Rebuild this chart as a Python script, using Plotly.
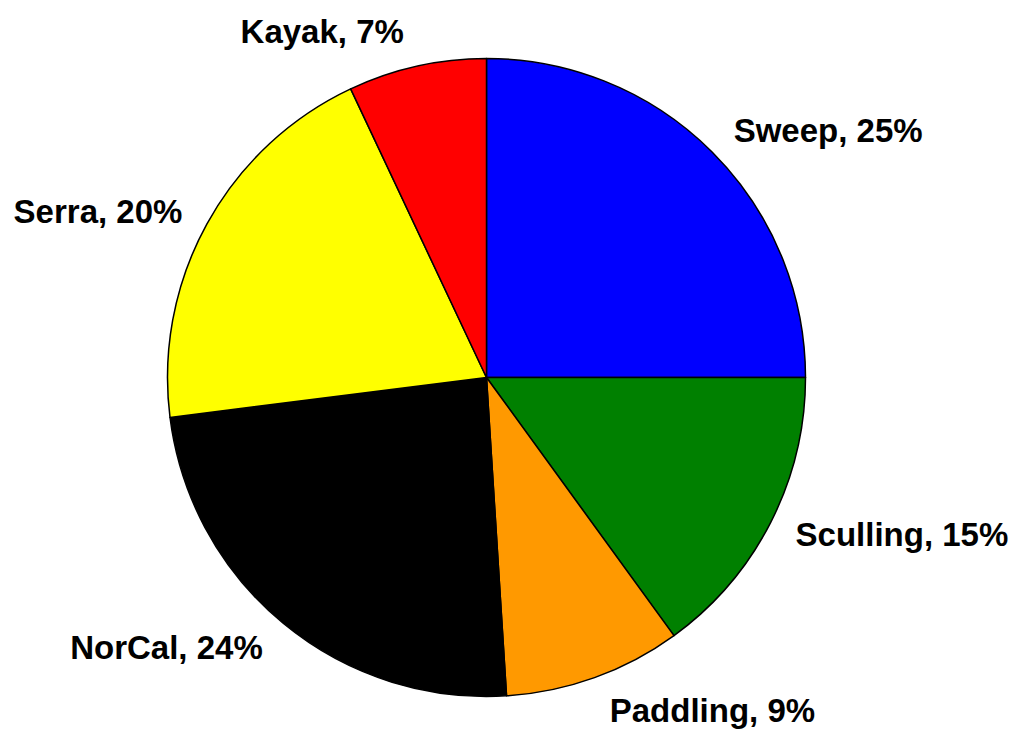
import plotly.graph_objects as go

labels = ["Sweep", "Sculling", "Paddling", "NorCal", "Serra", "Kayak"]
values = [25, 15, 9, 24, 20, 7]
colors = ["#0000FF", "#008000", "#FF9900", "#000000", "#FFFF00", "#FF0000"]

font = dict(family="Liberation Sans, Arial, sans-serif", size=33, color="black", weight="bold")

# Invisible, slightly larger pie carrying the outside labels (pushes them further out)
label_pie = go.Pie(
    labels=labels,
    values=values,
    sort=False,
    direction="clockwise",
    rotation=0,
    marker=dict(colors=["rgba(0,0,0,0)"] * len(values), line=dict(width=0)),
    textposition="outside",
    texttemplate="%{label}, %{percent:.0%}",
    textfont=font,
    showlegend=False,
    hoverinfo="skip",
    domain=dict(x=[0, 1], y=[0, 1]),
)

pie = go.Pie(
    labels=labels,
    values=values,
    sort=False,
    direction="clockwise",
    rotation=0,
    marker=dict(colors=colors, line=dict(color="black", width=1.5)),
    textinfo="none",
    showlegend=False,
    hoverinfo="label+percent",
    domain=dict(x=[0.026, 0.974], y=[0.026, 0.974]),
)

fig = go.Figure([label_pie, pie])
fig.update_layout(
    width=1024, height=736,
    margin=dict(l=126, r=208, t=16, b=30),
    paper_bgcolor="white",
    plot_bgcolor="white",
)
fig.write_html("out.html")
